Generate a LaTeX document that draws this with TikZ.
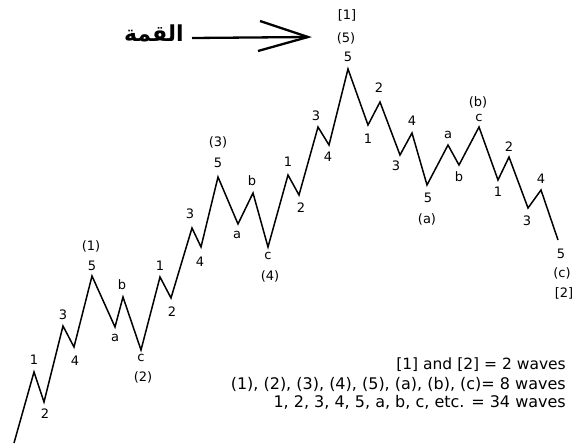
\documentclass[tikz,border=0pt]{standalone}
\usepackage{fontspec}
\setmainfont{DejaVu Sans}
\newfontfamily\arabicfont[Script=Arabic]{DejaVu Sans}
\TeXXeTstate=1
\begin{document}
\begin{tikzpicture}[x=1pt,y=-1pt,
  wave/.style={line width=1.5pt,line join=miter},
  lbl/.style={inner sep=0pt,font=\fontsize{13}{13}\selectfont},
  note/.style={inner sep=0pt,anchor=east,font=\fontsize{16}{17}\selectfont},
  arr/.style={line width=2.3pt}]
\useasboundingbox (0,0) rectangle (572,445);
% wave vertices
\foreach \x/\y [count=\i from 0] in {14/443,34/372,44/402,63/326,74/347,92/276,115/327,123/297,141/350,160/277,171/298,192/228,201/247,218/177,238/224,253/193,268/247,288/175,299/195,318/127,329/145,348/69,368/125,380/102,400/155,412/133,427/185,448/145,459/165,479/127,498/180,509/157,528/208,541/190,558/240}
  \coordinate (w\i) at (\x,\y);
\draw[wave] (w0)--(w1)--(w2)--(w3)--(w4)--(w5)--(w6)--(w7)--(w8)--(w9)--(w10)--(w11)--(w12)--(w13)--(w14)--(w15)--(w16)--(w17)--(w18)--(w19)--(w20)--(w21)--(w22)--(w23)--(w24)--(w25)--(w26)--(w27)--(w28)--(w29)--(w30)--(w31)--(w32)--(w33)--(w34);
% labels
\foreach \x/\y/\t [count=\i] in {34/360/1,45/414/2,63/315/3,75/361/4,92/266/5,91/246/(1),
  115/338/a,122/285/b,141/358/c,143/377/(2),
  160/266/1,172/312/2,190/214/3,200/262/4,218/163/5,218/142/(3),
  237/235/a,252/181/b,268/256/c,270/276/(4),
  288/162/1,301/208/2,316/116/3,328/157/4,
  348/57/5,346/38/(5),347/15/[1],
  368/139/1,379/88/2,396/166/3,412/121/4,428/198/5,427/219/(a),
  448/135/a,459/177/b,479/118/c,478/102/(b),
  498/192/1,509/147/2,527/221/3,541/179/4,561/254/5,562/273/(c),564/293/[2]}
  \node[lbl] (L\i) at (\x,\y) {\t};
% notes
\node[note,font=\fontsize{15.5}{17}\selectfont] (n1) at (566,365) {[1] and [2] = 2 waves};
\node[note] (n2) at (566,384) {(1), (2), (3), (4), (5), (a), (b), (c)= 8 waves};
\node[note] (n3) at (566,402) {1, 2, 3, 4, 5, a, b, c, etc. = 34 waves};
% arabic label and arrow
\node[inner sep=0pt,anchor=east,font=\fontsize{22}{24}\arabicfont\bfseries] (peak) at (184,33) {\beginR القمة\endR};
\coordinate (tip) at (308,37);
\coordinate (u) at (260,21);
\coordinate (d) at (258,51);
\draw[arr] (192,38) -- (tip);
\draw[arr] (u) -- (tip) -- (d);
\end{tikzpicture}
\end{document}
